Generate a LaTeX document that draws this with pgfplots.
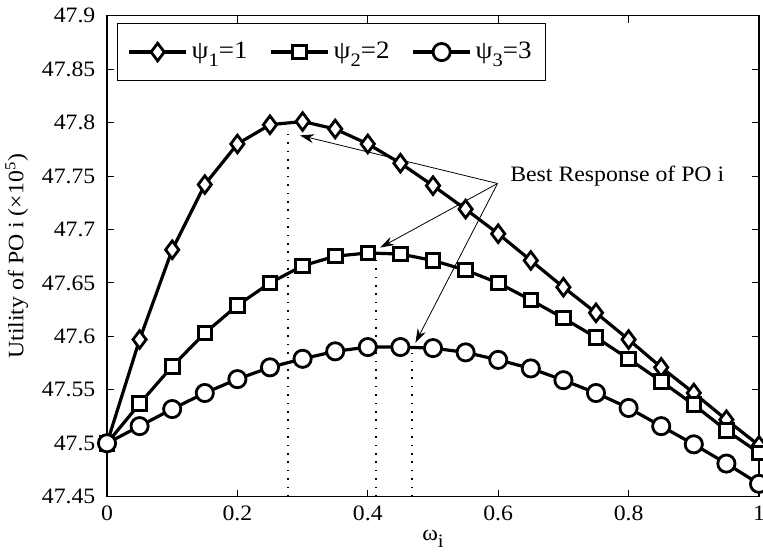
\documentclass[border=0pt]{standalone}
\usepackage{fontspec}
\setmainfont{Liberation Serif}[FakeStretch=1.08]
\usepackage{pgfplots}
\usepackage{pgfplotstable}
\pgfplotsset{compat=1.18}
\usetikzlibrary{arrows.meta}

% lowered subscript, as in the original figure
\newcommand{\sub}[1]{\raisebox{-0.7ex}{\fontsize{9.5}{9.5}\selectfont #1}}

% utility of PO i (x10^5) vs omega_i, three psi values
\pgfplotstableread{
w    psi1   psi2   psi3
0.00 47.500 47.500 47.500
0.05 47.597 47.537 47.516
0.10 47.681 47.572 47.532
0.15 47.742 47.603 47.547
0.20 47.780 47.629 47.560
0.25 47.798 47.650 47.571
0.30 47.801 47.666 47.579
0.35 47.794 47.675 47.586
0.40 47.780 47.678 47.590
0.45 47.762 47.677 47.590
0.50 47.741 47.671 47.589
0.55 47.719 47.662 47.585
0.60 47.696 47.650 47.578
0.65 47.671 47.634 47.570
0.70 47.646 47.617 47.559
0.75 47.622 47.599 47.547
0.80 47.597 47.579 47.533
0.85 47.571 47.558 47.516
0.90 47.547 47.536 47.499
0.95 47.522 47.512 47.481
1.00 47.498 47.491 47.462
}\utility

\begin{document}
\begin{tikzpicture}
\begin{axis}[
  scale only axis, width=326pt, height=240.5pt,
  xmin=0, xmax=1, ymin=47.45, ymax=47.9,
  xtick={0,0.2,0.4,0.6,0.8,1},
  ytick={47.45,47.5,47.55,47.6,47.65,47.7,47.75,47.8,47.85,47.9},
  tick align=inside, major tick length=3.5pt,
  every tick/.style={black, line width=0.5pt},
  axis line style={line width=0.6pt},
  font=\fontsize{11}{13}\selectfont,
  /pgf/number format/assume math mode=true,
  /pgf/number format/fixed, /pgf/number format/precision=2,
  yticklabel style={xshift=-2.3pt},
  xticklabel style={yshift=-1.3pt},
  xlabel={ω\sub{i}},
  xlabel style={yshift=-1pt, inner sep=0pt},
  ylabel={Utility of PO i (×10\textsuperscript{5})},
  legend columns=3,
  legend style={at={(0,1)}, anchor=north west, xshift=5pt, yshift=-3.5pt,
    draw=black, line width=0.6pt, fill=white, inner ysep=7.5pt, inner xsep=5pt,
    font=\fontsize{12.5}{14}\selectfont,
    /tikz/every even column/.append style={column sep=9pt}},
  legend image code/.code={\draw[mark repeat=2,mark phase=2,#1]
    plot coordinates {(0cm,0cm) (0.5cm,0cm) (1.0cm,0cm)};},
  clip marker paths=false,
]
\coordinate (sw) at (rel axis cs:0,0);
\coordinate (ne) at (rel axis cs:1,1);

\addplot[black, line width=1.6pt, mark=diamond*, mark size=4.4pt,
  mark options={solid, fill=white, line width=1.4pt}] table[x=w,y=psi1]{\utility};
\addlegendentry{ψ\sub{1}=1}
\addplot[black, line width=1.6pt, mark=square*, mark size=3.4pt,
  mark options={solid, fill=white, line width=1.5pt}] table[x=w,y=psi2]{\utility};
\addlegendentry{ψ\sub{2}=2}
\addplot[black, line width=1.6pt, mark=*, mark size=4.3pt,
  mark options={solid, fill=white, line width=1.4pt}] table[x=w,y=psi3]{\utility};
\addlegendentry{ψ\sub{3}=3}

% best responses
\addplot[black, line width=0.9pt, dash pattern=on 0.8pt off 3.4pt, forget plot]
  coordinates {(0.278,47.45) (0.278,47.793)};
\addplot[black, line width=0.9pt, dash pattern=on 0.8pt off 3.4pt, forget plot]
  coordinates {(0.412,47.45) (0.412,47.672)};
\addplot[black, line width=0.9pt, dash pattern=on 0.8pt off 3.4pt, forget plot]
  coordinates {(0.468,47.45) (0.468,47.584)};

\draw[-{Stealth[length=7pt,width=4.5pt]}, line width=0.4pt]
  (axis cs:0.599,47.743) -- (axis cs:0.296,47.788);
\draw[-{Stealth[length=7pt,width=4.5pt]}, line width=0.4pt]
  (axis cs:0.599,47.743) -- (axis cs:0.419,47.683);
\draw[-{Stealth[length=7pt,width=4.5pt]}, line width=0.4pt]
  (axis cs:0.599,47.743) -- (axis cs:0.473,47.594);
\node[anchor=west, inner sep=0pt] at (axis cs:0.618,47.75) {Best Response of PO i};
\end{axis}
\pgfresetboundingbox
\path ([shift={(-53.5pt,-31pt)}]sw) rectangle ([shift={(2pt,7.85pt)}]ne);
\end{tikzpicture}
\end{document}
